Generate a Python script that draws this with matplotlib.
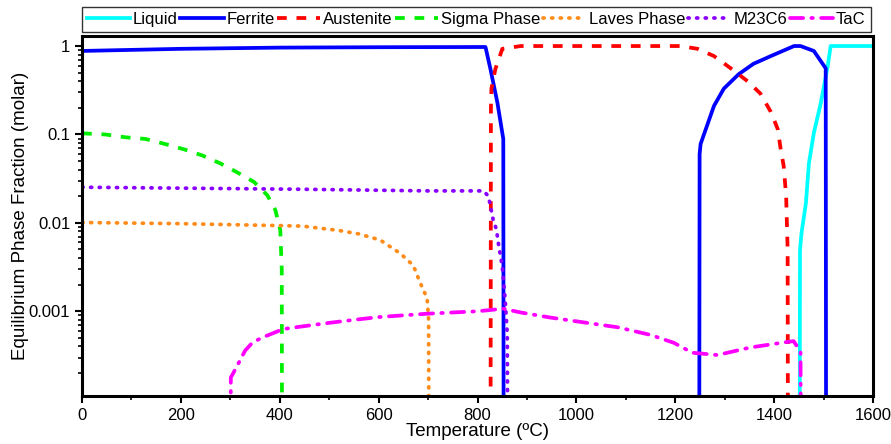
import numpy as np
import matplotlib.pyplot as plt
from matplotlib.ticker import FixedLocator, MultipleLocator, LogLocator, NullFormatter

plt.rcParams['font.family'] = ['Liberation Sans', 'DejaVu Sans']

OFF = 1e-6  # below the visible range (phase absent)

# Liquid
liq_t = [1451, 1452, 1455, 1464, 1470, 1480, 1494, 1508, 1514, 1600]
liq_f = [OFF, 0.0049, 0.0076, 0.0168, 0.047, 0.104, 0.226, 0.59, 1.0, 1.0]

# Ferrite (two branches)
fer1_t = [0, 200, 400, 600, 816, 826, 840, 852, 853]
fer1_f = [0.88, 0.93, 0.96, 0.97, 0.975, 0.55, 0.23, 0.089, OFF]
fer2_t = [1248, 1249, 1251, 1278, 1298, 1328, 1358, 1393, 1440, 1453, 1480, 1504, 1505]
fer2_f = [OFF, 0.06, 0.078, 0.21, 0.33, 0.48, 0.63, 0.77, 1.0, 1.0, 0.88, 0.56, OFF]

# Austenite
aus_t = [826, 827, 828, 836, 850, 887, 1211, 1245, 1278, 1312, 1346, 1372, 1393, 1407,
         1413, 1419, 1424, 1427, 1428]
aus_f = [OFF, 0.2, 0.33, 0.55, 0.93, 1.0, 1.0, 0.93, 0.77, 0.56, 0.40, 0.29, 0.18, 0.115,
         0.068, 0.044, 0.02, 0.005, OFF]

# Sigma phase
sig_t = [0, 47, 87, 128, 168, 206, 243, 280, 313, 348, 375, 391, 401, 404, 405]
sig_f = [0.103, 0.1, 0.093, 0.089, 0.078, 0.068, 0.058, 0.047, 0.0375, 0.029, 0.0205,
         0.014, 0.0083, 0.003, OFF]

# Laves phase
lav_t = [0, 200, 445, 520, 560, 603, 644, 670, 684, 698, 701, 702]
lav_f = [0.0101, 0.0098, 0.0092, 0.0082, 0.0075, 0.0064, 0.0045, 0.0033, 0.0021, 0.0014,
         0.0008, OFF]

# M23C6
m23_t = [0, 445, 700, 812, 822, 826, 832, 838, 842, 850, 856, 860, 862]
m23_f = [0.0253, 0.024, 0.023, 0.023, 0.02, 0.0155, 0.0105, 0.0085, 0.0059, 0.0032,
         0.0013, 0.00056, OFF]

# TaC
tac_t = [300, 301, 310, 330, 346, 374, 407, 450, 500, 550, 600, 650, 700, 750, 800, 852,
         887, 947, 1014, 1083, 1150, 1197, 1234, 1285, 1352, 1426, 1439, 1453, 1455]
tac_f = [OFF, 0.000178, 0.00022, 0.00036, 0.00045, 0.00053, 0.00063, 0.00068, 0.00074,
         0.0008, 0.00086, 0.0009, 0.00094, 0.00097, 0.001, 0.00107, 0.00097, 0.00085,
         0.00075, 0.00066, 0.00054, 0.00044, 0.00034, 0.00032, 0.00039, 0.00045, 0.00046,
         0.00035, OFF]

fig = plt.figure(figsize=(8.91, 4.44), dpi=100)
ax = fig.add_axes([0.092, 0.108, 0.888, 0.811])

lw = 2.7
ax.plot(liq_t, liq_f, color='#00ffff', lw=lw, label='Liquid')
ax.plot(fer1_t, fer1_f, color='#0000ff', lw=lw, label='Ferrite')
ax.plot(fer2_t, fer2_f, color='#0000ff', lw=lw)
ax.plot(aus_t, aus_f, color='#ff0000', lw=lw, dashes=(2.6, 2.6), label='Austenite')
ax.plot(sig_t, sig_f, color='#00ee00', lw=lw, dashes=(2.6, 2.6), label='Sigma Phase')
ax.plot(lav_t, lav_f, color='#ff8c1a', lw=lw, dashes=(0.3, 2.0), dash_capstyle='round',
        label='Laves Phase')
ax.plot(m23_t, m23_f, color='#8a00ff', lw=lw, dashes=(0.3, 2.0), dash_capstyle='round',
        label='M23C6')
ax.plot(tac_t, tac_f, color='#ff00ff', lw=lw, dashes=(3.5, 2.2, 0.4, 2.2),
        dash_capstyle='round', label='TaC')

ax.set_yscale('log')
ax.set_xlim(0, 1600)
ax.set_ylim(1.1e-4, 1.3)

ax.xaxis.set_major_locator(MultipleLocator(200))
ax.xaxis.set_minor_locator(MultipleLocator(100))
ax.yaxis.set_major_locator(FixedLocator([0.001, 0.01, 0.1, 1]))
ax.set_yticklabels(['0.001', '0.01', '0.1', '1'])
ax.yaxis.set_minor_locator(LogLocator(base=10, subs=np.arange(2, 10)))
ax.yaxis.set_minor_formatter(NullFormatter())

ax.tick_params(axis='both', which='major', labelsize=12, width=1.5, length=5,
               direction='out', colors='black')
ax.tick_params(axis='both', which='minor', width=1.2, length=3, direction='out')
for s in ax.spines.values():
    s.set_linewidth(2.2)

ax.set_xlabel('Temperature (ºC)', fontsize=13.5, labelpad=0)
ax.set_ylabel('Equilibrium Phase Fraction (molar)', fontsize=13.5, labelpad=0)

leg = fig.legend(loc='lower left', bbox_to_anchor=(0.092, 0.928, 0.885, 0.054),
                 mode='expand', ncol=7, fontsize=12, frameon=True, fancybox=False,
                 edgecolor='black', handlelength=2.6, handletextpad=0.15,
                 columnspacing=0.1, borderaxespad=0, borderpad=0.3)
leg.get_frame().set_linewidth(1.0)

fig.savefig('out.png', dpi=100, facecolor='white')
